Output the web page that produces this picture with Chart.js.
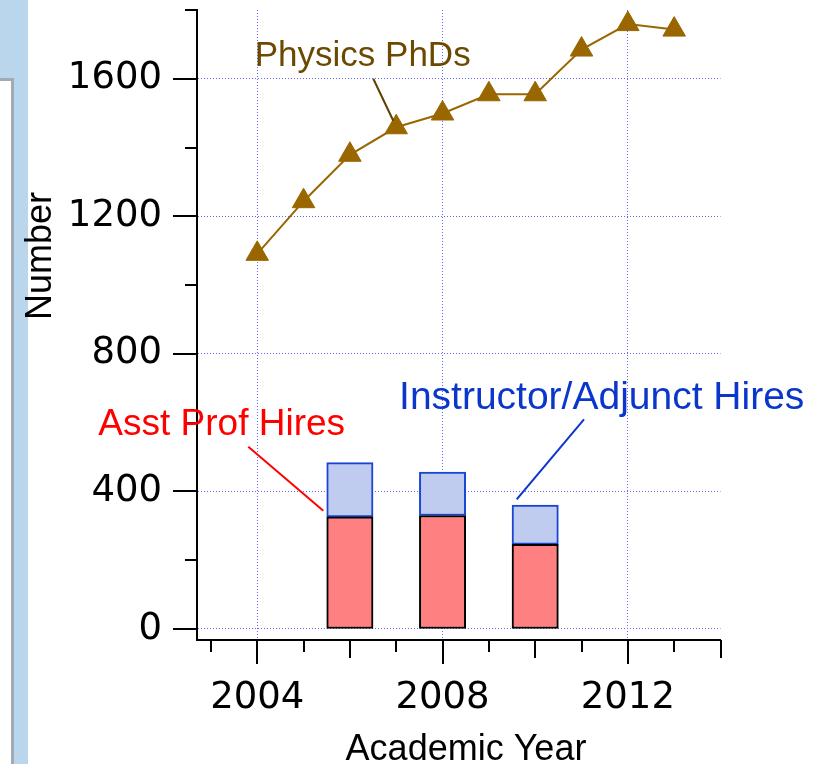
<!DOCTYPE html>
<html>
<head>
<meta charset="utf-8">
<script src="https://cdn.jsdelivr.net/npm/chart.js@4.4.1/dist/chart.umd.min.js"></script>
<style>
  html, body { margin: 0; padding: 0; background: #fff; }
  #wrap { position: relative; width: 830px; height: 764px; overflow: hidden; }
  /* window edge left over from the screenshot */
  #strip { position: absolute; left: 0; top: 0; width: 28px; height: 764px; background: #bad6ec; }
  #panel { position: absolute; left: -10px; top: 78px; width: 18px; height: 700px; background: #fff;
           border: 3px solid #a2abb3; }
  #chart { position: absolute; left: 0; top: 0; }
</style>
</head>
<body>
<div id="wrap">
  <div id="strip"></div>
  <div id="panel"></div>
  <canvas id="chart" width="830" height="764"></canvas>
</div>
<script>
// Physics PhDs per academic year
const phdYears = [2004, 2005, 2006, 2007, 2008, 2009, 2010, 2011, 2012, 2013];
const phds = [1091, 1244, 1379, 1459, 1499, 1555, 1555, 1685, 1759, 1743];

// hires (stacked bars)
const hireYears = [2006, 2008, 2010];
const asstProfHires = [326, 330, 246];
const instructorHires = [158, 126, 114];

// axis ticks
const xTicks = [2003, 2004, 2005, 2006, 2007, 2008, 2009, 2010, 2011, 2012, 2013, 2014];
const xTickLabels = [2004, 2008, 2012];
const yTicks = [0, 200, 400, 600, 800, 1000, 1200, 1400, 1600, 1800];
const yTickLabels = [0, 400, 800, 1200, 1600];

const tickFont = { family: 'DejaVu Sans', size: 37 };
const gridColor = '#6464ff';

// tick marks of different lengths, axis titles and the callouts
const decorPlugin = {
    id: 'decor',
    afterDraw(chart) {
        const ctx = chart.ctx;
        const xs = chart.scales.x;
        const ys = chart.scales.y;
        ctx.save();
        ctx.strokeStyle = '#000';
        ctx.lineWidth = 2;
        xTicks.forEach(function (v) {
            const px = Math.round(xs.getPixelForValue(v));
            const len = v % 4 === 0 ? 24 : (v % 2 === 0 ? 18 : 12);
            ctx.beginPath();
            ctx.moveTo(px, xs.top);
            ctx.lineTo(px, xs.top + len);
            ctx.stroke();
        });
        yTicks.forEach(function (v) {
            const py = Math.round(ys.getPixelForValue(v));
            const len = v % 400 === 0 ? 24 : 12;
            ctx.beginPath();
            ctx.moveTo(ys.right - len, py);
            ctx.lineTo(ys.right, py);
            ctx.stroke();
        });

        // axis titles
        ctx.fillStyle = '#000';
        ctx.font = '36px "Liberation Sans"';
        ctx.textAlign = 'center';
        ctx.textBaseline = 'alphabetic';
        ctx.fillText('Academic Year', 466, 760);
        ctx.save();
        ctx.translate(51, 256);
        ctx.rotate(-Math.PI / 2);
        ctx.fillText('Number', 0, 0);
        ctx.restore();

        // callouts
        ctx.font = '35px "Liberation Sans"';
        ctx.fillStyle = '#6b4a00';
        ctx.fillText('Physics PhDs', 362.7, 66);
        ctx.font = '37px "Liberation Sans"';
        ctx.fillStyle = '#ff0000';
        ctx.fillText('Asst Prof Hires', 221.7, 435);
        ctx.font = '39px "Liberation Sans"';
        ctx.fillStyle = '#0a36cc';
        ctx.fillText('Instructor/Adjunct Hires', 601.7, 409);

        ctx.lineWidth = 2;
        ctx.strokeStyle = '#5e3f00';
        ctx.beginPath(); ctx.moveTo(373.3, 78.7); ctx.lineTo(393.3, 120.7); ctx.stroke();
        ctx.strokeStyle = '#ff0000';
        ctx.beginPath(); ctx.moveTo(248.3, 446.7); ctx.lineTo(323.3, 510.7); ctx.stroke();
        ctx.strokeStyle = '#0a36cc';
        ctx.beginPath(); ctx.moveTo(584, 419.3); ctx.lineTo(516.7, 499.3); ctx.stroke();
        ctx.restore();
    }
};

const ctx = document.getElementById('chart').getContext('2d');
new Chart(ctx, {
    type: 'bar',
    data: {
        datasets: [{
            label: 'Asst Prof Hires',
            data: hireYears.map((x, i) => ({ x: x, y: asstProfHires[i] })),
            stack: 'hires',
            backgroundColor: '#ff8080',
            borderColor: '#000000',
            borderWidth: 2,
            borderSkipped: false,
            categoryPercentage: 1,
            barPercentage: 1
        }, {
            label: 'Instructor/Adjunct Hires',
            data: hireYears.map((x, i) => ({ x: x, y: instructorHires[i] })),
            stack: 'hires',
            backgroundColor: '#bfccf0',
            borderColor: '#1846d2',
            borderWidth: 2,
            borderSkipped: false,
            categoryPercentage: 1,
            barPercentage: 1
        }, {
            type: 'line',
            label: 'Physics PhDs',
            data: phdYears.map((x, i) => ({ x: x, y: phds[i] })),
            stack: 'phd',
            borderColor: '#996600',
            borderWidth: 2,
            pointStyle: 'triangle',
            pointRadius: 13,
            pointBorderWidth: 1,
            pointBackgroundColor: '#996600',
            pointBorderColor: '#996600',
            tension: 0,
            clip: false
        }]
    },
    options: {
        responsive: false,
        animation: false,
        devicePixelRatio: 1,
        layout: { autoPadding: false, padding: { left: 0, right: 109.5, top: 10, bottom: 0 } },
        plugins: {
            legend: { display: false },
            tooltip: { enabled: false }
        },
        scales: {
            x: {
                type: 'linear',
                min: 2002.7,
                max: 2014,
                stacked: true,
                offset: false,
                afterBuildTicks: function (s) { s.ticks = xTicks.map(v => ({ value: v })); },
                afterFit: function (s) {
                    s.height = 124;
                    s.paddingLeft = 0;
                    s.paddingRight = 0;
                },
                ticks: {
                    autoSkip: false,
                    maxRotation: 0,
                    padding: 36,
                    color: '#000',
                    font: tickFont,
                    callback: function (v) { return xTickLabels.includes(v) ? String(v) : ''; }
                },
                grid: {
                    offset: false,
                    drawTicks: false,
                    lineWidth: 1,
                    color: function (c) {
                        return c.tick && xTickLabels.includes(c.tick.value) ? gridColor : 'rgba(0,0,0,0)';
                    }
                },
                border: { display: true, color: '#000', width: 2, dash: [1, 2] }
            },
            y: {
                type: 'linear',
                min: -32,
                max: 1800,
                stacked: true,
                afterBuildTicks: function (s) { s.ticks = yTicks.map(v => ({ value: v })); },
                afterFit: function (s) {
                    s.width = 197;
                    s.paddingTop = 0;
                    s.paddingBottom = 0;
                },
                ticks: {
                    padding: 35,
                    color: '#000',
                    font: tickFont,
                    callback: function (v) { return yTickLabels.includes(v) ? String(v) : ''; }
                },
                grid: {
                    drawTicks: false,
                    lineWidth: 1,
                    color: function (c) {
                        return c.tick && yTickLabels.includes(c.tick.value) ? gridColor : 'rgba(0,0,0,0)';
                    }
                },
                border: { display: true, color: '#000', width: 2, dash: [1, 2] }
            }
        }
    },
    plugins: [decorPlugin]
});
</script>
</body>
</html>
